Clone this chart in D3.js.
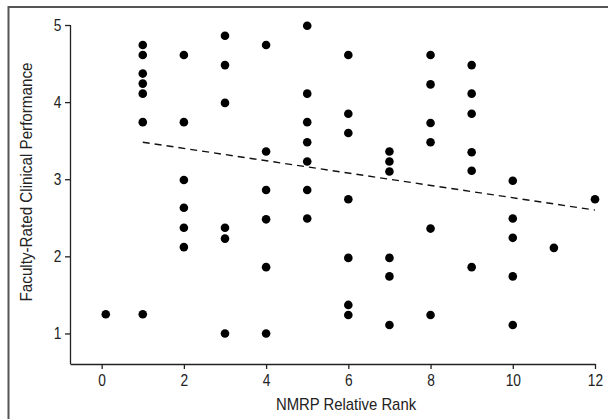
<!DOCTYPE html>
<meta charset="utf-8">
<style>
  body { margin: 0; background: #fff; }
  text { font-family: "Liberation Sans", Arial, sans-serif; fill: #222; }
</style>
<script src="https://d3js.org/d3.v7.min.js"></script>
<div id="my_dataviz"></div>
<script>

// NMRP relative rank of each resident (x) and the faculty rating (y)
var ranks = [
  0.1,
  1, 1, 1, 1, 1, 1, 1,
  2, 2, 2, 2, 2, 2,
  3, 3, 3, 3, 3, 3,
  4, 4, 4, 4, 4, 4,
  5, 5, 5, 5, 5, 5, 5,
  6, 6, 6, 6, 6, 6, 6,
  7, 7, 7, 7, 7, 7,
  8, 8, 8, 8, 8, 8,
  9, 9, 9, 9, 9, 9,
  10, 10, 10, 10, 10,
  11,
  12
];
var ratings = [
  1.25,
  4.74, 4.61, 4.37, 4.24, 4.11, 3.74, 1.25,
  4.61, 3.74, 2.99, 2.63, 2.37, 2.12,
  4.86, 4.48, 3.99, 2.37, 2.23, 1.00,
  4.74, 3.36, 2.86, 2.48, 1.86, 1.00,
  4.99, 4.11, 3.74, 3.48, 3.23, 2.86, 2.49,
  4.61, 3.85, 3.60, 2.74, 1.98, 1.37, 1.24,
  3.36, 3.23, 3.10, 1.98, 1.74, 1.11,
  4.61, 4.23, 3.73, 3.48, 2.36, 1.24,
  4.48, 4.11, 3.85, 3.35, 3.11, 1.86,
  2.98, 2.49, 2.24, 1.74, 1.11,
  2.11,
  2.74
];

// fitted regression line (dashed), from its two ends
var trendX = [1, 12];
var trendY = [3.48, 2.60];

var xTicks = [0, 2, 4, 6, 8, 10, 12];
var yTicks = [1, 2, 3, 4, 5];

var W = 608, H = 419;
var margin = {top: 25, right: 13, bottom: 55, left: 70},
    width = W - margin.left - margin.right,
    height = H - margin.top - margin.bottom;

var svg = d3.select("#my_dataviz")
  .append("svg")
    .attr("width", W)
    .attr("height", H);

// outer frame (left and top edges show)
svg.append("path")
  .attr("d", "M8.5," + H + "V7H" + W)
  .attr("fill", "none")
  .attr("stroke", "#555")
  .attr("stroke-width", 2);

var g = svg.append("g")
  .attr("transform", "translate(" + margin.left + "," + margin.top + ")");

var x = d3.scaleLinear()
  .domain([-0.77, 12])
  .range([0, width]);

var y = d3.scaleLinear()
  .domain([0.6, 5])
  .range([height + 0.3, 0]);

// X axis
var xAxis = g.append("g")
  .attr("transform", "translate(0," + height + ")")
  .call(d3.axisBottom(x).tickValues(xTicks).tickSize(5).tickSizeOuter(0));
xAxis.select(".domain").attr("stroke", "#222").attr("stroke-width", 1.3);
xAxis.selectAll(".tick line").attr("stroke", "#222").attr("stroke-width", 1.3);
xAxis.selectAll("text")
  .style("font-size", "16px")
  .attr("dy", "0.9em")
  .attr("transform", "scale(0.86,1)");

// Y axis
var yAxis = g.append("g")
  .call(d3.axisLeft(y).tickValues(yTicks).tickFormat(d3.format("d")).tickSize(5).tickSizeOuter(0));
yAxis.select(".domain")
  .attr("d", "M0.5," + height + "V" + y(5))
  .attr("stroke", "#222").attr("stroke-width", 1.3);
yAxis.selectAll(".tick line").attr("stroke", "#222").attr("stroke-width", 1.3);
yAxis.selectAll("text")
  .style("font-size", "16px")
  .attr("x", -10)
  .attr("transform", "scale(0.86,1)");

// axis titles
svg.append("text")
  .attr("transform", "translate(346,410)scale(0.93,1)")
  .attr("text-anchor", "middle")
  .style("font-size", "16px")
  .text("NMRP Relative Rank");

svg.append("text")
  .attr("transform", "translate(32,182)rotate(-90)scale(0.95,1)")
  .attr("text-anchor", "middle")
  .style("font-size", "16px")
  .text("Faculty-Rated Clinical Performance");

// trend line
g.append("line")
  .attr("x1", x(trendX[0]))
  .attr("y1", y(trendY[0]))
  .attr("x2", x(trendX[1]))
  .attr("y2", y(trendY[1]))
  .attr("stroke", "#111")
  .attr("stroke-width", 1.4)
  .attr("stroke-dasharray", "7,5");

// points
g.selectAll("mycircle")
  .data(ranks)
  .enter()
  .append("circle")
    .attr("cx", function(d) { return x(d); })
    .attr("cy", function(d, i) { return y(ratings[i]); })
    .attr("r", 4.3)
    .style("fill", "#000");

</script>
